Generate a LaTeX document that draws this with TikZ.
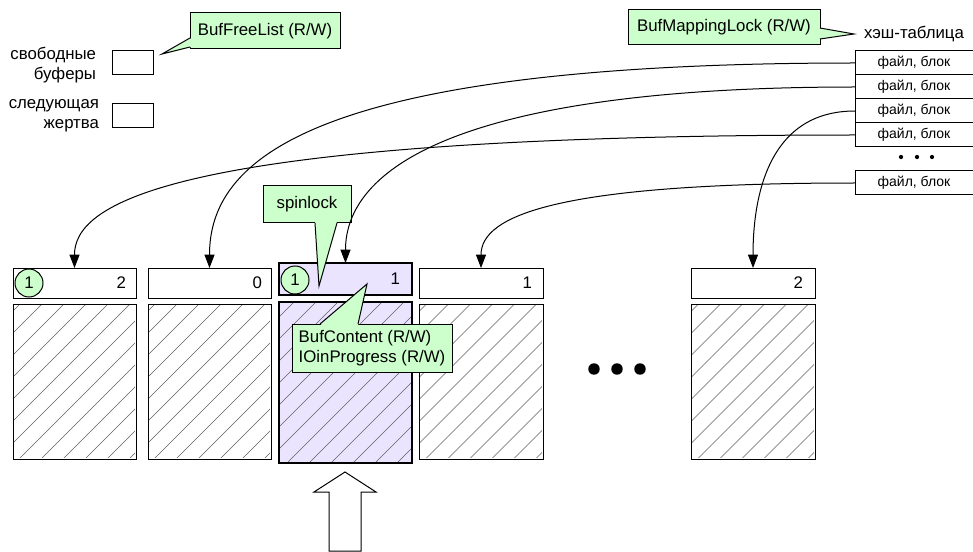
\documentclass[tikz,border=0pt]{standalone}
\usepackage{fontspec}
\setmainfont{Liberation Sans}
\usetikzlibrary{arrows.meta}
\definecolor{callgreen}{RGB}{204,255,204}
\definecolor{lilac}{RGB}{234,228,255}
\begin{document}
\begin{tikzpicture}[x=0.75pt,y=-0.75pt,
  every node/.style={font=\fontsize{12.6}{15}\selectfont, inner sep=0pt, outer sep=0pt},
  line width=0.75pt,
  hdr/.style={draw, fill=white, minimum width=92.25pt, minimum height=22.5pt},
  hdrsel/.style={draw, fill=lilac, line width=1.6pt, minimum width=99.75pt, minimum height=24pt},
  bufbody/.style={draw, fill=white, minimum width=92.25pt, minimum height=116.25pt},
  bufbodysel/.style={draw, fill=lilac, line width=1.6pt, minimum width=99.75pt, minimum height=120.75pt},
  hatch/.style={draw=black!62, line width=0.45pt},
  num/.style={anchor=east},
  cnt/.style={circle, draw, fill=callgreen, minimum size=21pt},
  smallbox/.style={draw, minimum width=30.75pt, minimum height=18pt},
  lbl/.style={align=right, anchor=east},
  callout/.style={draw, fill=callgreen},
  ptr/.style={fill=callgreen, draw=none},
  cell/.style={draw, fill=white, minimum width=91.5pt, minimum height=18pt, font=\fontsize{10.5}{12}\selectfont},
  conn/.style={-{Triangle[length=10pt,width=7.5pt]}},
]
\useasboundingbox (0,0) rectangle (973,552);

% left labels and boxes
\node[lbl] (lfree) at (96,65) {свободные\\буферы};
\node[smallbox] (bfree) at (132.5,63) {};
\node[lbl] (lvict) at (99,116) {следующая\\жертва};
\node[smallbox] (bvict) at (132.5,115.5) {};

% hash table
\node[anchor=west] (htitle) at (864,34) {хэш-таблица};
\node[cell] (h1) at (916,63) {\hspace*{-3pt}файл, блок};
\node[cell] (h2) at (916,87) {\hspace*{-3pt}файл, блок};
\node[cell] (h3) at (916,111) {\hspace*{-3pt}файл, блок};
\node[cell] (h4) at (916,135) {\hspace*{-3pt}файл, блок};
\node[cell] (h5) at (916,183) {\hspace*{-3pt}файл, блок};
\fill (901,157) circle[radius=1.6pt] (917,157) circle[radius=1.6pt] (932,157) circle[radius=1.6pt];

% buffer headers
\node[hdr] (hd1) at (74.5,283) {};
\node[hdr] (hd2) at (209.5,283) {};
\node[hdrsel] (hd3) at (345.5,279) {};
\node[hdr, minimum width=93pt] (hd4) at (481,283) {};
\node[hdr, minimum width=93pt] (hd5) at (753,283) {};

\node[num] (n1) at ([shift={(-10,0)}]hd1.east) {2};
\node[num] (n2) at ([shift={(-9,0)}]hd2.east) {0};
\node[num] (n3) at ([shift={(-12,0)}]hd3.east) {1};
\node[num] (n4) at ([shift={(-11,0)}]hd4.east) {1};
\node[num] (n5) at ([shift={(-12,0)}]hd5.east) {2};

\node[cnt] (c1) at (29,283) {1};
\node[cnt] (c3) at (295,280) {1};

% buffer bodies
\node[bufbody] (bd1) at (74.5,381.5) {};
\node[bufbody] (bd2) at (209.5,381.5) {};
\node[bufbodysel] (bd3) at (345.5,382.5) {};
\node[bufbody, minimum width=93pt] (bd4) at (481,381.5) {};
\node[bufbody, minimum width=93pt] (bd5) at (753,381.5) {};
\foreach \b in {bd1,bd2,bd3,bd4,bd5} {
  \begin{scope}
    \clip ([shift={(1.2,-1.2)}]\b.south west) rectangle ([shift={(-1.2,1.2)}]\b.north east);
    \foreach \k in {-8,...,8}
      \draw[hatch] ([shift={(\k*22-110,110)}]\b.center) -- ++(220,-220);
  \end{scope}
}

% ellipsis
\fill (594,369) circle[radius=4.3pt] (617,369) circle[radius=4.3pt] (640,369) circle[radius=4.3pt];

% hollow arrow
\draw[fill=white] (329,551) -- (329,492) -- (314,492) -- (345,472) -- (376,492) -- (361,492) -- (361,551) -- cycle;

% callouts
\node[callout, minimum width=112.5pt, minimum height=27pt] (bfl) at (265,31) {BufFreeList (R/W)};
\coordinate (bfltip) at (162,54);
\fill[ptr] ([shift={(1.5,7)}]bfl.west) -- (bfltip) -- ([shift={(1.5,16)}]bfl.west) -- cycle;
\draw ([shift={(0,7)}]bfl.west) -- (bfltip) -- ([shift={(0,16)}]bfl.west);

\node[callout, minimum width=144pt, minimum height=26.25pt] (bml) at (724,27.5) {BufMappingLock (R/W)};
\coordinate (bmltip) at (854,34);
\fill[ptr] ([shift={(-1.5,0.5)}]bml.east) -- (bmltip) -- ([shift={(-1.5,11.5)}]bml.east) -- cycle;
\draw ([shift={(0,0.5)}]bml.east) -- (bmltip) -- ([shift={(0,11.5)}]bml.east);

\node[callout, minimum width=66pt, minimum height=27.75pt] (spl) at (307,204.5) {spinlock};
\coordinate (spltip) at (319,286);
\fill[ptr] ([shift={(8,-1.5)}]spl.south) -- (spltip) -- ([shift={(30,-1.5)}]spl.south) -- cycle;
\draw ([shift={(8,0)}]spl.south) -- (spltip) -- ([shift={(30,0)}]spl.south);

\node[callout, align=left, minimum width=120pt, minimum height=36pt] (bct) at (372,348) {BufContent (R/W)\\IOinProgress (R/W)};
\coordinate (bcttip) at (367,284);
\fill[ptr] ([shift={(-52,1.5)}]bct.north) -- (bcttip) -- ([shift={(-14,1.5)}]bct.north) -- cycle;
\draw ([shift={(-52,0)}]bct.north) -- (bcttip) -- ([shift={(-14,0)}]bct.north);

% connectors from hash table to buffers
\draw[conn] (h1.west) .. controls +(-550,0) and +(0,-106) .. (hd2.north);
\draw[conn] (h2.west) .. controls +(-400,0) and +(0,-93) .. (hd3.north);
\draw[conn] (h3.west) .. controls +(-90,0) and +(0,-65) .. (hd5.north);
\draw[conn] (h4.west) .. controls +(-700,0) and +(0,-61) .. (hd1.north);
\draw[conn] (h5.west) .. controls +(-300,0) and +(0,-52) .. (hd4.north);
\end{tikzpicture}
\end{document}
